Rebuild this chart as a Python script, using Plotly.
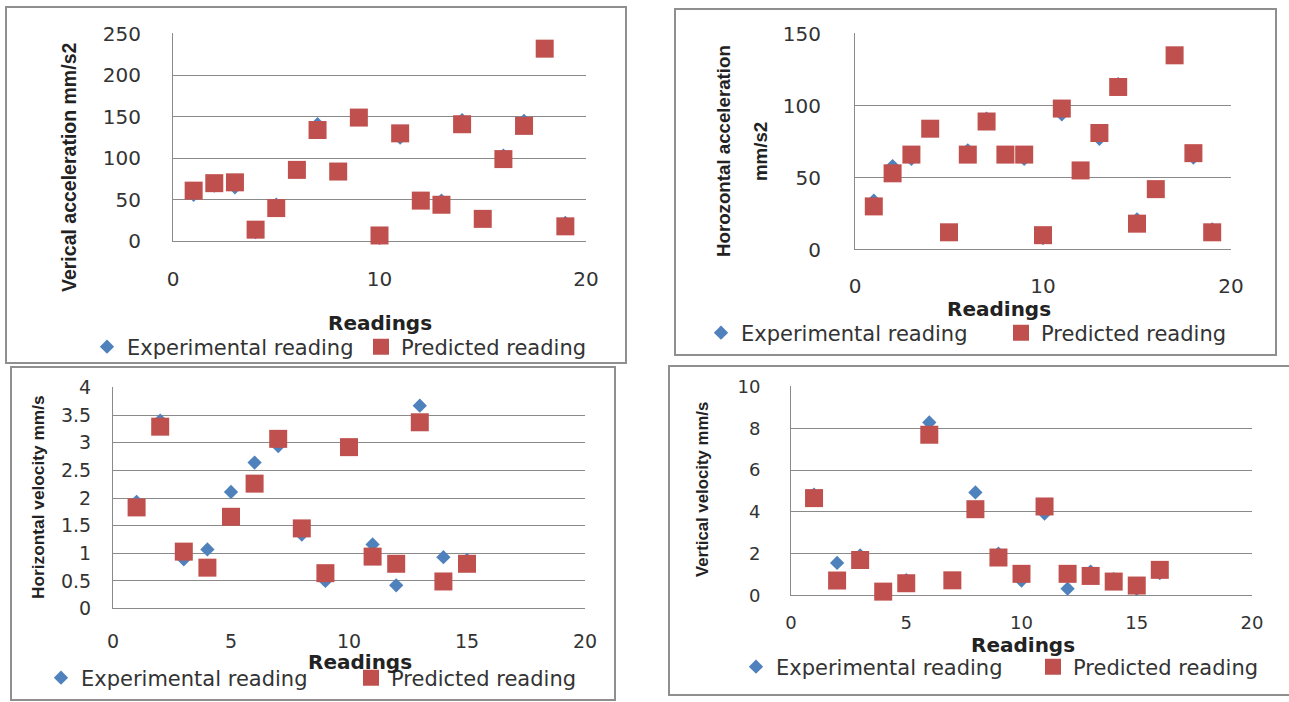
import plotly.graph_objects as go

W, H = 1289, 702

# ---------------- data ----------------
readings_a = list(range(1, 20))
vert_acc_exp = [56, 67, 65, 11, 44, 86, 141, 84, 150, 4, 125, 50, 49, 146, 27, 103, 145, 232, 22]
vert_acc_pred = [61, 70, 71, 14, 40, 86, 134, 84, 149, 7, 130, 49, 44, 141, 27, 99, 139, 232, 18]

readings_b = list(range(1, 20))
hor_acc_exp = [34, 58, 63, 83, 12, 69, 91, 66, 63, 8, 94, 55, 77, 115, 21, 42, 135, 64, 14]
hor_acc_pred = [30, 53, 66, 84, 12, 66, 89, 66, 66, 10, 98, 55, 81, 113, 18, 42, 135, 67, 12]

readings_c = list(range(1, 16))
hor_vel_exp = [1.93, 3.40, 0.89, 1.07, 2.11, 2.64, 2.94, 1.34, 0.50, 2.92, 1.16, 0.42, 3.67, 0.93, 0.88]
hor_vel_pred = [1.83, 3.29, 1.03, 0.74, 1.66, 2.26, 3.07, 1.45, 0.64, 2.92, 0.94, 0.81, 3.37, 0.49, 0.81]

readings_d = list(range(1, 17))
vert_vel_exp = [4.82, 1.56, 1.92, 0.20, 0.74, 8.28, 0.75, 4.93, 2.00, 0.72, 3.92, 0.33, 1.15, 0.78, 0.32, 1.08]
vert_vel_pred = [4.66, 0.72, 1.70, 0.19, 0.59, 7.69, 0.73, 4.13, 1.82, 1.04, 4.26, 1.04, 0.94, 0.67, 0.48, 1.23]

y_titles = ["Verical acceleration mm/s2", "Horozontal acceleration", "Horizontal velocity mm/s", "Vertical velocity mm/s"]
x_title = "Readings"
series_names = ["Experimental reading", "Predicted reading"]

# ---------------- style ----------------
BLUE = "#4F81BD"
RED = "#C0504D"
GRID = "#8a8a8a"
TXT = "#333333"
FONT = "DejaVu Sans"
TFONT = "Liberation Sans"


def px(v):
    return v / W


def py(v):
    return 1 - v / H


panels = [
    dict(x=readings_a, e=vert_acc_exp, p=vert_acc_pred, xd=(173, 586), yd=(33.3, 241.7),
         yr=250, dy=50, dx=10, ysoff=27, xsoff=23, tick=20, legend="legend"),
    dict(x=readings_b, e=hor_acc_exp, p=hor_acc_pred, xd=(855, 1231), yd=(33.3, 250),
         yr=150, dy=50, dx=10, ysoff=29, xsoff=22, tick=20, legend="legend2"),
    dict(x=readings_c, e=hor_vel_exp, p=hor_vel_pred, xd=(113, 585), yd=(387, 609),
         yr=4, dy=0.5, dx=5, ysoff=17, xsoff=19, tick=19, legend="legend3"),
    dict(x=readings_d, e=vert_vel_exp, p=vert_vel_pred, xd=(791, 1252), yd=(386, 596),
         yr=10, dy=2, dx=5, ysoff=26, xsoff=14, tick=18, legend="legend4"),
]

fig = go.Figure()
layout = dict(
    width=W, height=H, autosize=False,
    margin=dict(l=0, r=0, t=0, b=0, autoexpand=False),
    paper_bgcolor="white", plot_bgcolor="white",
    font=dict(family=FONT, color=TXT),
)

for i, pnl in enumerate(panels):
    n = "" if i == 0 else str(i + 1)
    xa, ya = "x" + n, "y" + n
    fig.add_trace(go.Scatter(
        x=pnl["x"], y=pnl["e"], mode="markers", name=series_names[0],
        marker=dict(symbol="diamond", size=11, color=BLUE, line=dict(width=0)),
        xaxis=xa, yaxis=ya, legend=pnl["legend"], cliponaxis=False))
    fig.add_trace(go.Scatter(
        x=pnl["x"], y=pnl["p"], mode="markers", name=series_names[1],
        marker=dict(symbol="square", size=18, color=RED, line=dict(width=0)),
        xaxis=xa, yaxis=ya, legend=pnl["legend"], cliponaxis=False))
    pad = pnl["yr"] * 0.002
    layout["xaxis" + n] = dict(
        domain=[px(pnl["xd"][0]), px(pnl["xd"][1])], anchor=ya,
        range=[0, 20], tickvals=list(range(0, 21, pnl["dx"])),
        showgrid=False, zeroline=False, showline=False, ticks="",
        ticklabelstandoff=pnl["xsoff"],
        tickfont=dict(family=FONT, size=pnl["tick"], color=TXT),
    )
    layout["yaxis" + n] = dict(
        domain=[py(pnl["yd"][1]), py(pnl["yd"][0])], anchor=xa,
        range=[-pad, pnl["yr"] + pad], dtick=pnl["dy"], tick0=0,
        showgrid=True, gridcolor=GRID, gridwidth=1,
        zeroline=True, zerolinecolor=GRID, zerolinewidth=1,
        showline=True, linecolor=GRID, linewidth=1, ticks="",
        ticklabelstandoff=pnl["ysoff"],
        tickfont=dict(family=FONT, size=pnl["tick"], color=TXT),
    )

# legends (one per panel): (left x, centre y, entry width) in pixels
legend_pos = [(87, 347, 229), (701, 333, 255), (41, 678, 265), (736, 667, 252)]
for i, (lx, ly, ew) in enumerate(legend_pos):
    key = "legend" if i == 0 else "legend" + str(i + 1)
    layout[key] = dict(
        x=px(lx), y=py(ly), xanchor="left", yanchor="middle",
        orientation="h", entrywidth=ew, entrywidthmode="pixels",
        bgcolor="rgba(0,0,0,0)", borderwidth=0,
        font=dict(family=FONT, size=21, color=TXT),
        itemclick=False, itemdoubleclick=False,
    )

annotations = []
# x titles
for (cx, cy) in [(380, 323), (999, 309), (360, 662), (1023, 645)]:
    annotations.append(dict(
        text=x_title, x=px(cx), y=py(cy), xref="paper", yref="paper",
        xanchor="center", yanchor="middle", showarrow=False,
        font=dict(family=FONT, size=20, color="#222222", weight="bold")))
# y titles
ytitle_specs = [
    (y_titles[0], 69, 168, 19.5),
    (y_titles[1], 723, 151, 18.7),
    ("mm/s2", 761, 152, 18.7),
    (y_titles[2], 38, 497, 17.3),
    (y_titles[3], 702, 490, 16.8),
]
for (t, cx, cy, s) in ytitle_specs:
    annotations.append(dict(
        text=t, x=px(cx), y=py(cy), xref="paper", yref="paper",
        xanchor="center", yanchor="middle", showarrow=False, textangle=-90,
        font=dict(family=TFONT, size=s, color="#222222", weight="bold")))
layout["annotations"] = annotations

# panel frames
shapes = []
for (x0, y0, x1, y1) in [(6, 7, 626, 363), (675, 9, 1276, 355), (11, 367, 615, 700), (669, 366, 1300, 695)]:
    shapes.append(dict(type="rect", xref="paper", yref="paper",
                       x0=px(x0), x1=px(x1), y0=py(y1), y1=py(y0),
                       line=dict(color="#8f8f8f", width=2), fillcolor="rgba(0,0,0,0)", layer="below"))
layout["shapes"] = shapes

fig.update_layout(**layout)
fig.write_html("out.html", config={"displayModeBar": False})
